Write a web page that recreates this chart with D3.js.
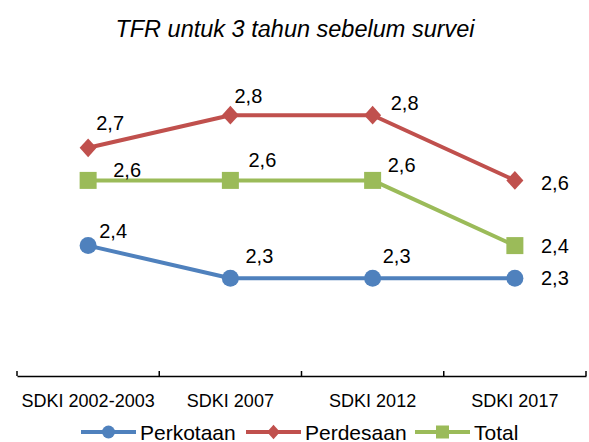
<!DOCTYPE html>
<html>
<head>
<meta charset="utf-8">
<script src="https://cdn.jsdelivr.net/npm/d3@7"></script>
<style>
  body { margin: 0; background: #fff; }
  svg { font-family: "Liberation Sans", Arial, sans-serif; }
</style>
</head>
<body>
<svg id="chart" width="589" height="442"></svg>
<script>
// data
const categories = ['SDKI 2002-2003', 'SDKI 2007', 'SDKI 2012', 'SDKI 2017'];
const perkotaan = [2.4, 2.3, 2.3, 2.3];
const perdesaan = [2.7, 2.8, 2.8, 2.6];
const total = [2.6, 2.6, 2.6, 2.4];
const seriesNames = ['Perkotaan', 'Perdesaan', 'Total'];

const series = [
  { name: seriesNames[0], values: perkotaan, color: '#4F81BD', marker: 'circle' },
  { name: seriesNames[1], values: perdesaan, color: '#C0504D', marker: 'diamond' },
  { name: seriesNames[2], values: total, color: '#9BBB59', marker: 'square' },
];

// label placement relative to each point (dx, dy), hand placed like the original
const labelOffsets = [
  [[25, -15], [29, -22], [24, -22], [40, 0]],
  [[22, -25], [18, -19], [32, -12], [40, 3]],
  [[39, -10], [32, -20], [29, -15], [40, 0]],
];

const x = d3.scaleBand().domain(categories).range([17, 586]).padding(0);
const y = d3.scaleLinear().domain([2, 3]).range([376, 50]);

const svg = d3.select('#chart');

// title
svg.append('text')
  .attr('x', 295)
  .attr('y', 37)
  .attr('text-anchor', 'middle')
  .style('font-style', 'italic')
  .style('font-size', '23.5px')
  .text('TFR untuk 3 tahun sebelum survei');

// x axis
const xAxis = d3.axisBottom(x).tickSize(0).tickPadding(18);
const gx = svg.append('g')
  .attr('transform', `translate(0, ${y(2)})`)
  .call(xAxis);
gx.select('.domain').attr('stroke', '#000').attr('stroke-width', 1.5);
gx.selectAll('text')
  .style('font-size', '18px')
  .style('font-family', '"Liberation Sans", Arial, sans-serif')
  .attr('fill', '#000');
// tick marks on the band edges, pointing up
const edges = categories.map((c) => x(c)).concat([x.range()[1]]);
gx.selectAll('line.edge')
  .data(edges)
  .enter()
  .append('line')
  .attr('class', 'edge')
  .attr('x1', (d) => d)
  .attr('x2', (d) => d)
  .attr('y1', 0)
  .attr('y2', -5)
  .attr('stroke', '#000')
  .attr('stroke-width', 1.5);

const cx = (i) => x(categories[i]) + x.bandwidth() / 2;

const line = d3.line()
  .x((d, i) => cx(i))
  .y((d) => y(d));

function drawMarker(g, type, color, px, py, s) {
  if (type === 'circle') {
    g.append('circle').attr('cx', px).attr('cy', py).attr('r', s).attr('fill', color);
  } else if (type === 'diamond') {
    g.append('path')
      .attr('d', `M${px},${py - s * 1.1}L${px + s},${py}L${px},${py + s * 1.1}L${px - s},${py}Z`)
      .attr('fill', color);
  } else {
    g.append('rect')
      .attr('x', px - s).attr('y', py - s)
      .attr('width', 2 * s).attr('height', 2 * s)
      .attr('fill', color);
  }
}

// lines and markers
series.forEach((s) => {
  const g = svg.append('g');
  g.append('path')
    .datum(s.values)
    .attr('d', line)
    .attr('fill', 'none')
    .attr('stroke', s.color)
    .attr('stroke-width', 4)
    .attr('stroke-linejoin', 'round');
  s.values.forEach((v, i) => {
    drawMarker(g, s.marker, s.color, cx(i), y(v), 8.5);
  });
});

// data labels
series.forEach((s, si) => {
  svg.append('g')
    .selectAll('text')
    .data(s.values)
    .enter()
    .append('text')
    .attr('x', (d, i) => cx(i) + labelOffsets[si][i][0])
    .attr('y', (d, i) => y(d) + labelOffsets[si][i][1])
    .attr('text-anchor', 'middle')
    .attr('dominant-baseline', 'central')
    .style('font-size', '20px')
    .text((d) => d3.format('.1f')(d).replace('.', ','));
});

// legend
const legendX = [81, 246, 415];
const legend = svg.append('g').attr('transform', 'translate(0, 432)');
series.forEach((s, si) => {
  const lx = legendX[si];
  legend.append('line')
    .attr('x1', lx).attr('x2', lx + 55)
    .attr('y1', 0).attr('y2', 0)
    .attr('stroke', s.color)
    .attr('stroke-width', 4);
  drawMarker(legend, s.marker, s.color, lx + 27.5, 0, 6.5);
  legend.append('text')
    .attr('x', lx + 59)
    .attr('y', 0)
    .attr('dominant-baseline', 'central')
    .style('font-size', '21px')
    .text(s.name);
});
</script>
</body>
</html>
